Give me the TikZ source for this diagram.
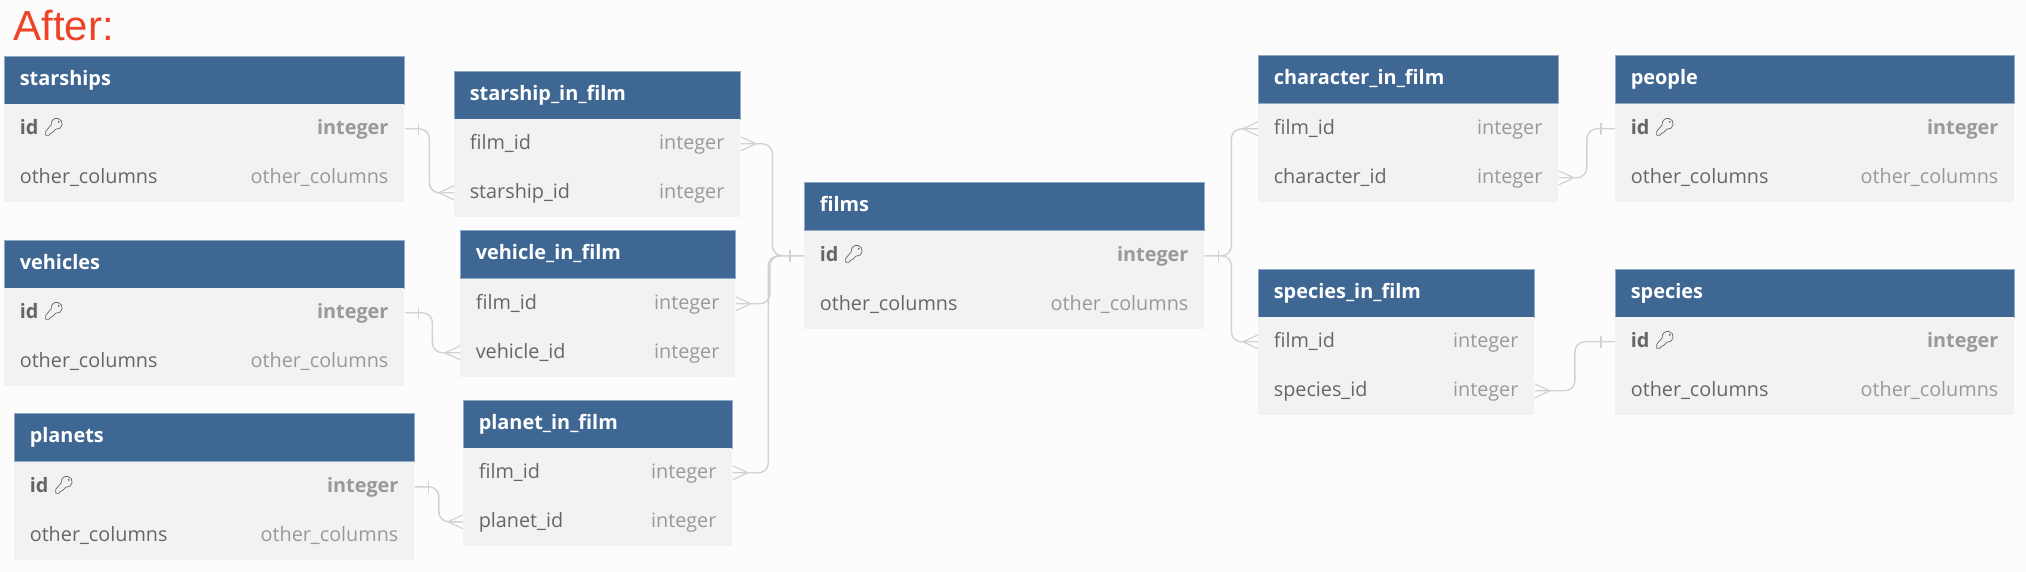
\documentclass[tikz,border=0pt]{standalone}
\usepackage{fontspec}
\setmainfont{Open Sans}
\newfontfamily\titlefont{Liberation Sans}
\usetikzlibrary{positioning,calc}
\definecolor{pagebg}{HTML}{FCFCFC}
\definecolor{headblue}{HTML}{3F6793}
\definecolor{headedge}{HTML}{8FA9C6}
\definecolor{rowgray}{HTML}{F2F2F2}
\definecolor{namegray}{HTML}{666666}
\definecolor{typegray}{HTML}{999999}
\definecolor{relgray}{HTML}{D2D2D2}
\definecolor{afterred}{HTML}{EE4327}
\tikzset{
  headbox/.style={anchor=north west, fill=headblue, draw=headedge, line width=.4pt, inner sep=0pt, minimum height=24pt},
  headtext/.style={right=6pt, text=white, font=\fontsize{9.95}{12}\selectfont\bfseries, inner sep=0pt, text height=8pt, text depth=2.5pt},
  rowbox/.style={anchor=north west, fill=rowgray, inner sep=0pt, minimum height=24.4pt},
  nametext/.style={text=namegray, font=\fontsize{9.9}{12}\selectfont, inner sep=0pt, text height=8pt, text depth=2.5pt},
  typetext/.style={text=typegray, font=\fontsize{9.9}{12}\selectfont, inner sep=0pt, text height=8pt, text depth=2.5pt},
  pkname/.style={nametext, font=\fontsize{9.9}{12}\selectfont\bfseries},
  pktype/.style={typetext, font=\fontsize{9.9}{12}\selectfont\bfseries},
  rel/.style={draw=relgray, line width=.7pt, rounded corners=5pt},
  relmark/.style={draw=relgray, line width=.6pt},
  keyicon/.pic={
    \draw[namegray, line width=.35pt, line join=round]
      (17,.4) arc (100:-190:5.5) -- (7,2.5) -- (7,6.5) -- (10.5,6.5) -- (11,5) -- (14,3.5) -- cycle;
    \fill[namegray] (20,-7) circle (.5pt);
  }
}
% one table end: bar, many table end: crow's foot (#2 gives the side)
\newcommand{\barend}[2]{\draw[relmark] ($(#1)+(#2*14,-6)$) -- ++(0,12);}
\newcommand{\footend}[2]{\draw[relmark] ($(#1)+(0,-7)$) -- ($(#1)+(#2*15,0)$) -- ($(#1)+(0,7)$);}
\newcommand{\erlink}[2]{\draw[rel] (#1) -| ($(#1)!.5!(#2)$) |- (#2);}
\begin{document}
\begin{tikzpicture}[x=.5pt,y=-.5pt]
\fill[pagebg] (0,0) rectangle (2026,572);
\node [anchor=west, text=afterred, font=\fontsize{21}{24}\selectfont\titlefont, inner sep=0pt] (aftertitle) at (13,26) {After:};

% starships
\node [headbox, minimum width=200pt] (starships) at (4,56) {};
\node [headtext, right=7.7pt of starships.west] (starships_title) {starships};
\node [rowbox, minimum width=200pt] (starships_id) at (4,104) {};
\node [rowbox, minimum width=200pt] (starships_other) at (4,153) {};
\node [pkname, right=7.7pt of starships_id.west] (starships_idname) {id};
\node [pktype, left=8pt of starships_id.east] (starships_idtype) {integer};
\node [nametext, right=7.7pt of starships_other.west] (starships_othername) {other\_columns};
\node [typetext, left=8pt of starships_other.east] (starships_othertype) {other\_columns};
\pic at (starships_idname.east) {keyicon};

% vehicles
\node [headbox, minimum width=200pt] (vehicles) at (4,240) {};
\node [headtext, right=7.7pt of vehicles.west] (vehicles_title) {vehicles};
\node [rowbox, minimum width=200pt] (vehicles_id) at (4,288) {};
\node [rowbox, minimum width=200pt] (vehicles_other) at (4,337) {};
\node [pkname, right=7.7pt of vehicles_id.west] (vehicles_idname) {id};
\node [pktype, left=8pt of vehicles_id.east] (vehicles_idtype) {integer};
\node [nametext, right=7.7pt of vehicles_other.west] (vehicles_othername) {other\_columns};
\node [typetext, left=8pt of vehicles_other.east] (vehicles_othertype) {other\_columns};
\pic at (vehicles_idname.east) {keyicon};

% planets
\node [headbox, minimum width=200pt] (planets) at (14,413) {};
\node [headtext, right=7.7pt of planets.west] (planets_title) {planets};
\node [rowbox, minimum width=200pt] (planets_id) at (14,462) {};
\node [rowbox, minimum width=200pt] (planets_other) at (14,511) {};
\node [pkname, right=7.7pt of planets_id.west] (planets_idname) {id};
\node [pktype, left=8pt of planets_id.east] (planets_idtype) {integer};
\node [nametext, right=7.7pt of planets_other.west] (planets_othername) {other\_columns};
\node [typetext, left=8pt of planets_other.east] (planets_othertype) {other\_columns};
\pic at (planets_idname.east) {keyicon};

% starship_in_film
\node [headbox, minimum width=143pt] (starshipfilm) at (454,71) {};
\node [headtext, right=7.7pt of starshipfilm.west] (starshipfilm_title) {starship\_in\_film};
\node [rowbox, minimum width=143pt] (starshipfilm_film) at (454,119) {};
\node [rowbox, minimum width=143pt] (starshipfilm_ship) at (454,168) {};
\node [nametext, right=7.7pt of starshipfilm_film.west] (starshipfilm_filmname) {film\_id};
\node [typetext, left=8pt of starshipfilm_film.east] (starshipfilm_filmtype) {integer};
\node [nametext, right=7.7pt of starshipfilm_ship.west] (starshipfilm_shipname) {starship\_id};
\node [typetext, left=8pt of starshipfilm_ship.east] (starshipfilm_shiptype) {integer};

% vehicle_in_film
\node [headbox, minimum width=137.5pt] (vehiclefilm) at (460,230) {};
\node [headtext, right=7.7pt of vehiclefilm.west] (vehiclefilm_title) {vehicle\_in\_film};
\node [rowbox, minimum width=137.5pt] (vehiclefilm_film) at (460,279) {};
\node [rowbox, minimum width=137.5pt] (vehiclefilm_veh) at (460,328) {};
\node [nametext, right=7.7pt of vehiclefilm_film.west] (vehiclefilm_filmname) {film\_id};
\node [typetext, left=8pt of vehiclefilm_film.east] (vehiclefilm_filmtype) {integer};
\node [nametext, right=7.7pt of vehiclefilm_veh.west] (vehiclefilm_vehname) {vehicle\_id};
\node [typetext, left=8pt of vehiclefilm_veh.east] (vehiclefilm_vehtype) {integer};

% planet_in_film
\node [headbox, minimum width=134.5pt] (planetfilm) at (463,400) {};
\node [headtext, right=7.7pt of planetfilm.west] (planetfilm_title) {planet\_in\_film};
\node [rowbox, minimum width=134.5pt] (planetfilm_film) at (463,448) {};
\node [rowbox, minimum width=134.5pt] (planetfilm_planet) at (463,497) {};
\node [nametext, right=7.7pt of planetfilm_film.west] (planetfilm_filmname) {film\_id};
\node [typetext, left=8pt of planetfilm_film.east] (planetfilm_filmtype) {integer};
\node [nametext, right=7.7pt of planetfilm_planet.west] (planetfilm_planetname) {planet\_id};
\node [typetext, left=8pt of planetfilm_planet.east] (planetfilm_planettype) {integer};

% films
\node [headbox, minimum width=200pt] (films) at (804,182) {};
\node [headtext, right=7.7pt of films.west] (films_title) {films};
\node [rowbox, minimum width=200pt] (films_id) at (804,231) {};
\node [rowbox, minimum width=200pt] (films_other) at (804,280) {};
\node [pkname, right=7.7pt of films_id.west] (films_idname) {id};
\node [pktype, left=8pt of films_id.east] (films_idtype) {integer};
\node [nametext, right=7.7pt of films_other.west] (films_othername) {other\_columns};
\node [typetext, left=8pt of films_other.east] (films_othertype) {other\_columns};
\pic at (films_idname.east) {keyicon};

% character_in_film
\node [headbox, minimum width=150pt] (charfilm) at (1258,55) {};
\node [headtext, right=7.7pt of charfilm.west] (charfilm_title) {character\_in\_film};
\node [rowbox, minimum width=150pt] (charfilm_film) at (1258,104) {};
\node [rowbox, minimum width=150pt] (charfilm_char) at (1258,153) {};
\node [nametext, right=7.7pt of charfilm_film.west] (charfilm_filmname) {film\_id};
\node [typetext, left=8pt of charfilm_film.east] (charfilm_filmtype) {integer};
\node [nametext, right=7.7pt of charfilm_char.west] (charfilm_charname) {character\_id};
\node [typetext, left=8pt of charfilm_char.east] (charfilm_chartype) {integer};

% species_in_film
\node [headbox, minimum width=138pt] (speciesfilm) at (1258,269) {};
\node [headtext, right=7.7pt of speciesfilm.west] (speciesfilm_title) {species\_in\_film};
\node [rowbox, minimum width=138pt] (speciesfilm_film) at (1258,317) {};
\node [rowbox, minimum width=138pt] (speciesfilm_spec) at (1258,366) {};
\node [nametext, right=7.7pt of speciesfilm_film.west] (speciesfilm_filmname) {film\_id};
\node [typetext, left=8pt of speciesfilm_film.east] (speciesfilm_filmtype) {integer};
\node [nametext, right=7.7pt of speciesfilm_spec.west] (speciesfilm_specname) {species\_id};
\node [typetext, left=8pt of speciesfilm_spec.east] (speciesfilm_spectype) {integer};

% people
\node [headbox, minimum width=199.5pt] (people) at (1615,55) {};
\node [headtext, right=7.7pt of people.west] (people_title) {people};
\node [rowbox, minimum width=199.5pt] (people_id) at (1615,104) {};
\node [rowbox, minimum width=199.5pt] (people_other) at (1615,153) {};
\node [pkname, right=7.7pt of people_id.west] (people_idname) {id};
\node [pktype, left=8pt of people_id.east] (people_idtype) {integer};
\node [nametext, right=7.7pt of people_other.west] (people_othername) {other\_columns};
\node [typetext, left=8pt of people_other.east] (people_othertype) {other\_columns};
\pic at (people_idname.east) {keyicon};

% species
\node [headbox, minimum width=199.5pt] (species) at (1615,269) {};
\node [headtext, right=7.7pt of species.west] (species_title) {species};
\node [rowbox, minimum width=199.5pt] (species_id) at (1615,317) {};
\node [rowbox, minimum width=199.5pt] (species_other) at (1615,366) {};
\node [pkname, right=7.7pt of species_id.west] (species_idname) {id};
\node [pktype, left=8pt of species_id.east] (species_idtype) {integer};
\node [nametext, right=7.7pt of species_other.west] (species_othername) {other\_columns};
\node [typetext, left=8pt of species_other.east] (species_othertype) {other\_columns};
\pic at (species_idname.east) {keyicon};

% relations
\erlink{starships_id.east}{starshipfilm_ship.west}
\barend{starships_id.east}{1}
\footend{starshipfilm_ship.west}{-1}
\erlink{vehicles_id.east}{vehiclefilm_veh.west}
\barend{vehicles_id.east}{1}
\footend{vehiclefilm_veh.west}{-1}
\erlink{planets_id.east}{planetfilm_planet.west}
\barend{planets_id.east}{1}
\footend{planetfilm_planet.west}{-1}
\erlink{starshipfilm_film.east}{films_id.west}
\footend{starshipfilm_film.east}{1}
\erlink{vehiclefilm_film.east}{films_id.west}
\footend{vehiclefilm_film.east}{1}
\erlink{planetfilm_film.east}{films_id.west}
\footend{planetfilm_film.east}{1}
\barend{films_id.west}{-1}
\erlink{films_id.east}{charfilm_film.west}
\erlink{films_id.east}{speciesfilm_film.west}
\barend{films_id.east}{1}
\footend{charfilm_film.west}{-1}
\footend{speciesfilm_film.west}{-1}
\erlink{charfilm_char.east}{people_id.west}
\footend{charfilm_char.east}{1}
\barend{people_id.west}{-1}
\erlink{speciesfilm_spec.east}{species_id.west}
\footend{speciesfilm_spec.east}{1}
\barend{species_id.west}{-1}
\end{tikzpicture}
\end{document}
